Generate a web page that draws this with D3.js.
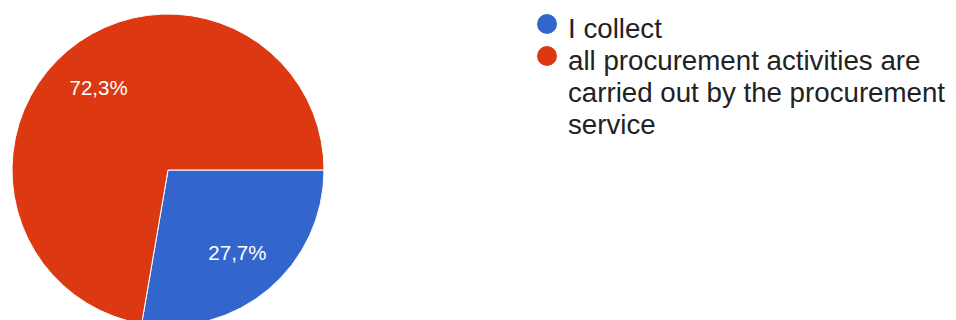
<!DOCTYPE html>
<html>
<head>
<meta charset="utf-8">
<script src="https://cdn.jsdelivr.net/npm/d3@7"></script>
<style>
  html, body { margin: 0; padding: 0; background: #fff; }
  svg { display: block; }
  text { font-family: "Liberation Sans", Arial, sans-serif; }
</style>
</head>
<body>
<script>
// Survey answers and their shares (percent)
const categories = ["I collect", "all procurement activities are carried out by the procurement service"];
const shares = [27.7, 72.3];
const shareLabels = ["27,7%", "72,3%"];
const colors = ["#3366cc", "#dc3912"];
// Legend entries, already wrapped into lines
const legendLines = [
  ["I collect"],
  ["all procurement activities are", "carried out by the procurement", "service"]
];

const width = 956, height = 320;
const cx = 168, cy = 170, radius = 156;

const svg = d3.select("body").append("svg")
  .attr("width", width)
  .attr("height", height);

const data = categories.map((c, i) => ({ name: c, value: shares[i], label: shareLabels[i], color: colors[i] }));

const pie = d3.pie()
  .value(d => d.value)
  .sort(null)
  .startAngle(Math.PI / 2)
  .endAngle(Math.PI / 2 + 2 * Math.PI);

const arc = d3.arc().innerRadius(0).outerRadius(radius);
const labelArc = d3.arc().innerRadius(radius * 0.69).outerRadius(radius * 0.69);

const g = svg.append("g").attr("transform", `translate(${cx},${cy})`);
const arcs = pie(data);

g.selectAll("path.slice")
  .data(arcs)
  .join("path")
  .attr("class", "slice")
  .attr("d", arc)
  .attr("fill", d => d.data.color)
  .attr("stroke", "#ffffff")
  .attr("stroke-width", 1);

g.selectAll("text.pct")
  .data(arcs)
  .join("text")
  .attr("class", "pct")
  .attr("transform", d => `translate(${labelArc.centroid(d)})`)
  .attr("text-anchor", "middle")
  .attr("dy", "0.36em")
  .attr("fill", "#ffffff")
  .attr("font-size", 20.5)
  .text(d => d.data.label);

// Legend
const legendX = 547, legendY = 24, lineH = 32, textX = 568;
const legend = svg.append("g");
let row = 0;
data.forEach((d, i) => {
  const y0 = legendY + row * lineH;
  legend.append("circle")
    .attr("cx", legendX)
    .attr("cy", y0)
    .attr("r", 10)
    .attr("fill", d.color);
  const t = legend.append("text")
    .attr("x", textX)
    .attr("y", y0 + 13.5)
    .attr("font-size", 27.7)
    .attr("fill", "#222222");
  legendLines[i].forEach((line, j) => {
    t.append("tspan")
      .attr("x", textX)
      .attr("dy", j === 0 ? 0 : lineH)
      .text(line);
  });
  row += legendLines[i].length;
});
</script>
</body>
</html>
